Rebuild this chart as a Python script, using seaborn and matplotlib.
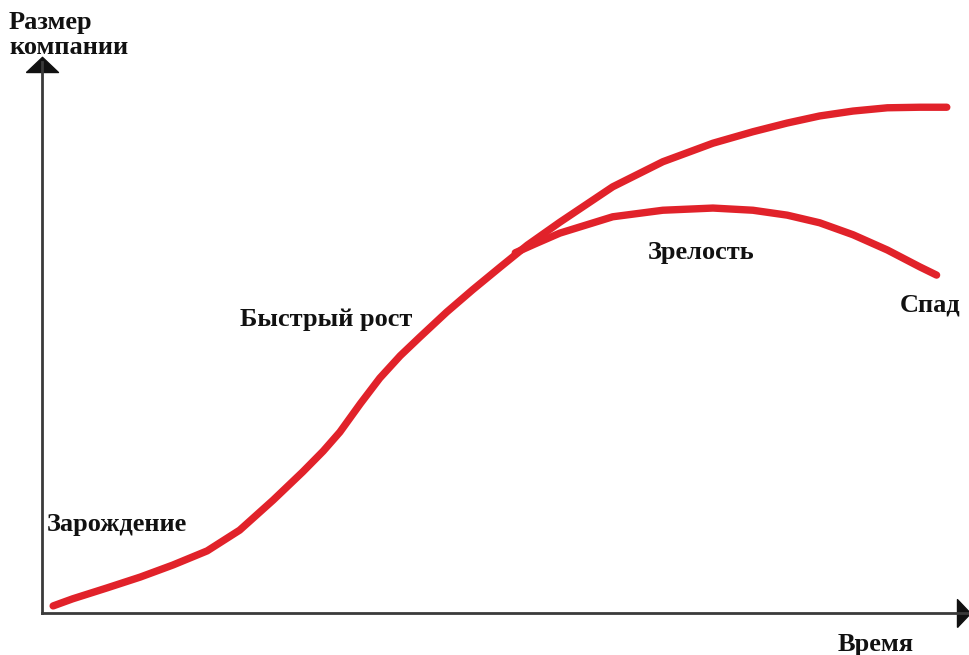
import numpy as np
import pandas as pd
import matplotlib
matplotlib.use('Agg')
import matplotlib.pyplot as plt
import seaborn as sns

# Кривая жизненного цикла компании (условные единицы 0..100)
# основная ветка: зарождение -> быстрый рост -> выход на плато
main_x = [1.2, 3.3, 7.0, 10.6, 14.1, 17.8, 21.3, 24.9, 28.1, 30.3, 32.1, 34.3,
          36.4, 38.6, 40.7, 43.6, 46.4, 49.4, 52.3, 55.8, 61.5, 66.9, 72.3,
          76.6, 80.3, 83.8, 87.4, 91.1, 94.6, 97.5]
main_y = [0.2, 1.5, 3.5, 5.5, 7.7, 10.3, 14.1, 19.6, 24.8, 28.6, 32.1, 37.3,
          42.0, 46.1, 49.5, 54.1, 58.2, 62.4, 66.4, 70.6, 77.1, 81.7, 85.1,
          87.2, 88.8, 90.1, 91.0, 91.6, 91.7, 91.7]
# ветка зрелости и спада
decline_x = [51.0, 53.1, 55.8, 61.5, 66.9, 72.3, 76.6, 80.3, 83.8, 87.4, 91.1,
             94.6, 96.4]
decline_y = [65.0, 66.6, 68.6, 71.6, 72.8, 73.2, 72.8, 71.9, 70.5, 68.3, 65.5,
             62.4, 60.9]

stage_labels = ['Зарождение', 'Быстрый рост', 'Зрелость', 'Спад']
axis_labels = ['Размер', 'компании', 'Время']

df_main = pd.DataFrame({'x': main_x, 'y': main_y})
df_decl = pd.DataFrame({'x': decline_x, 'y': decline_y})

sns.set_theme(style='white')
plt.rcParams['font.family'] = ['Liberation Serif', 'DejaVu Serif']

W, H = 970, 655
fig = plt.figure(figsize=(W / 100, H / 100), dpi=100)
# оси: левая ось x=42, нижняя ось y=613, верх оси Y ~62, правый край 970
ax = fig.add_axes([42 / W, (H - 613) / H, (970 - 42) / W, (613 - 62) / H])

red = '#e1222a'
lw = 5.3
sns.lineplot(data=df_main, x='x', y='y', sort=False, ax=ax, color=red,
             linewidth=lw, solid_capstyle='round', solid_joinstyle='round')
sns.lineplot(data=df_decl, x='x', y='y', sort=False, ax=ax, color=red,
             linewidth=lw, solid_capstyle='round', solid_joinstyle='round')

ax.set_xlim(0, 100)
ax.set_ylim(-1.1, 100)
ax.set_xticks([])
ax.set_yticks([])
ax.set_xlabel('')
ax.set_ylabel('')
for s in ['top', 'right']:
    ax.spines[s].set_visible(False)
for s in ['left', 'bottom']:
    ax.spines[s].set_color('#3a3a3a')
    ax.spines[s].set_linewidth(2)

# стрелки на концах осей (приплюснутые треугольники)
up_tri = [(-1, 0), (1, 0), (0, 0.95), (-1, 0)]
right_tri = [(0, -1), (0, 1), (0.95, 0), (0, -1)]
ax.plot([0], [(613 - 72) / 551], marker=up_tri, markersize=23, color='#111111',
        transform=ax.transAxes, clip_on=False)
ax.plot([(957 - 42) / 928], [0], marker=right_tri, markersize=20,
        color='#111111', transform=ax.transAxes, clip_on=False)

fk = dict(fontsize=19, fontweight='bold', color='#111111', va='center', ha='left')
fig.text(9 / W, 1 - 22 / H, axis_labels[0], **fk)
fig.text(9 / W, 1 - 47 / H, axis_labels[1], **fk)
fig.text(47 / W, 1 - 524 / H, stage_labels[0], **fk)
fig.text(240 / W, 1 - 319 / H, stage_labels[1], **fk)
fig.text(648 / W, 1 - 252 / H, stage_labels[2], **fk)
fig.text(900 / W, 1 - 305 / H, stage_labels[3], **fk)
fig.text(838 / W, 1 - 644 / H, axis_labels[2], **fk)

fig.savefig('out.png', dpi=100)
